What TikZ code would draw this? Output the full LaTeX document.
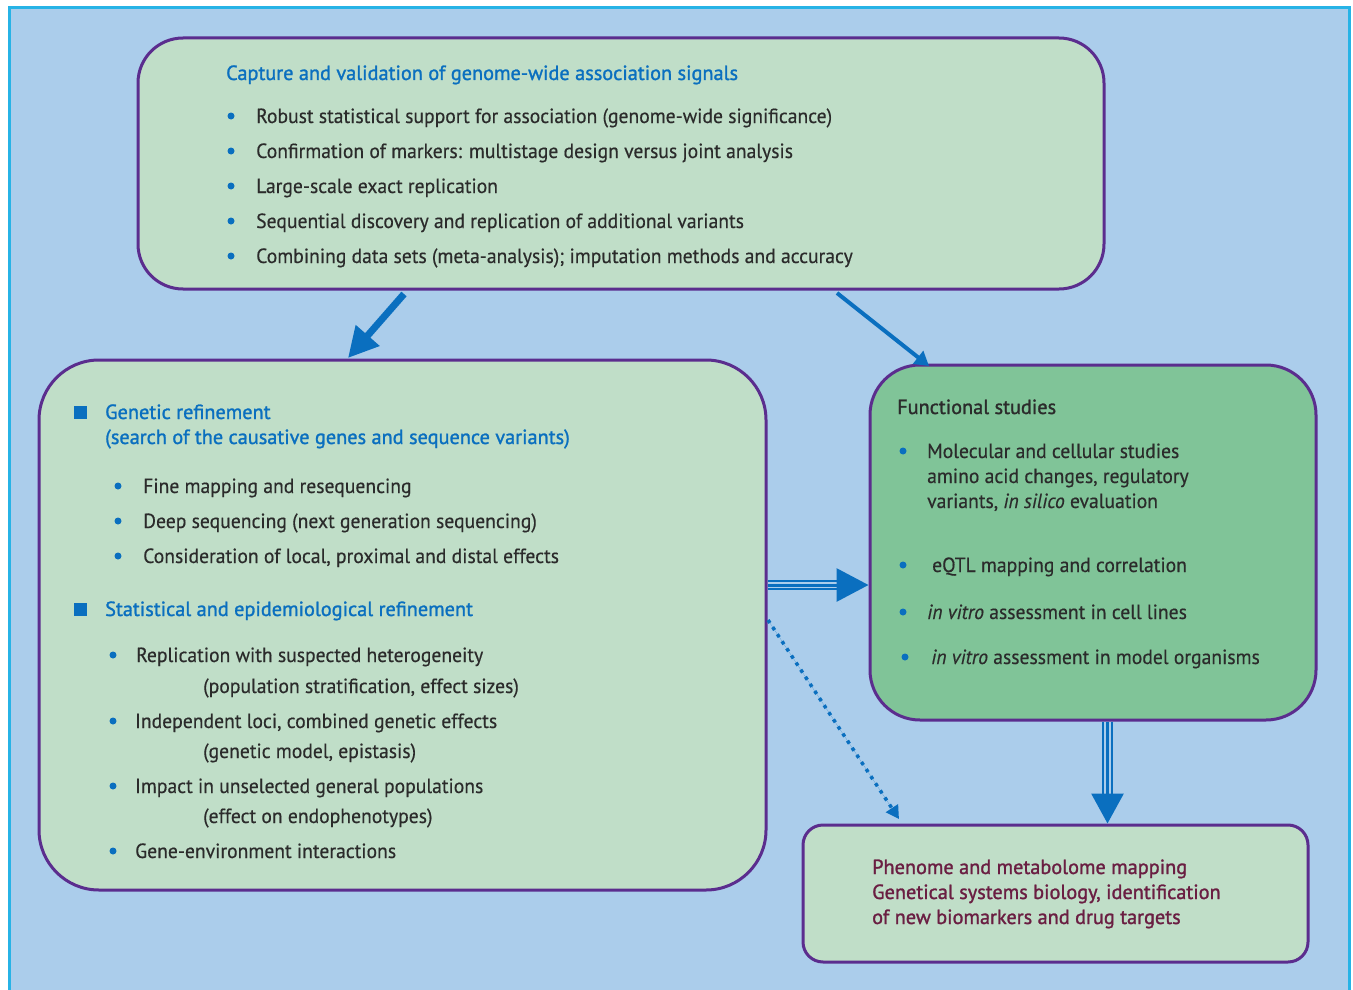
\documentclass[tikz,border=0pt]{standalone}
\usepackage{fontspec}
\setmainfont{PT Sans}[FakeStretch=0.958, FakeBold=0.4]
\newfontfamily\ttlfont{PT Sans}[FakeStretch=0.99, FakeBold=1.3]
\usetikzlibrary{arrows.meta}
\definecolor{bgblue}{HTML}{ABCDEB}
\definecolor{frame}{HTML}{27B3E6}
\definecolor{boxgreen}{HTML}{C0DEC8}
\definecolor{fungreen}{HTML}{80C498}
\definecolor{purp}{HTML}{5B2D8E}
\definecolor{tblue}{HTML}{0A6FBF}
\definecolor{tgray}{HTML}{2B2B2B}
\definecolor{maroon}{HTML}{6A1E42}
\tikzset{
  box/.style={draw=purp, line width=3pt, fill=boxgreen, inner sep=0pt},
  txt/.style={anchor=base west, inner sep=0pt, text=tgray},
  ttl/.style={txt, text=tblue, font=\fontsize{20.5}{25}\ttlfont},
  hdr/.style={txt, font=\fontsize{20.5}{25}\ttlfont},
  mar/.style={txt, text=maroon, font=\fontsize{20.5}{25}\ttlfont},
  bul/.style={circle, fill=tblue, inner sep=0pt, minimum size=7pt},
  sq/.style={rectangle, fill=tblue, inner sep=0pt, minimum size=13pt},
  arr/.style={draw=tblue, fill=tblue},
}
\begin{document}
\begin{tikzpicture}[x=1pt,y=-1pt,font=\fontsize{20.5}{25}\selectfont]
\useasboundingbox (0,0) rectangle (1353,990);
\begin{scope}
\clip (0,0) rectangle (1353,990);
\draw[frame, fill=bgblue, line width=3pt] (9.5,7.5) rectangle (1349.5,1010);
\end{scope}

% boxes
\node[box, rounded corners=45pt, minimum width=966pt, minimum height=251pt] (top) at (621,163.5) {};
\node[box, rounded corners=60pt, minimum width=727pt, minimum height=530pt] (left) at (402.5,625) {};
\node[box, fill=fungreen, rounded corners=50pt, minimum width=446pt, minimum height=355pt] (right) at (1093,542.5) {};
\node[box, rounded corners=20pt, minimum width=505pt, minimum height=137pt] (bot) at (1055.5,893.5) {};

% top box text
\node[ttl] (t0) at (226,80) {Capture and validation of genome-wide association signals};
\node[bul] (tb1) at (231,116) {}; \node[txt] (t1) at (256,123) {Robust statistical support for association (genome-wide significance)};
\node[bul] (tb2) at (231,151) {}; \node[txt] (t2) at (256,158) {Confirmation of markers: multistage design versus joint analysis};
\node[bul] (tb3) at (231,186) {}; \node[txt] (t3) at (256,193) {Large-scale exact replication};
\node[bul] (tb4) at (231,221) {}; \node[txt] (t4) at (256,228) {Sequential discovery and replication of additional variants};
\node[bul] (tb5) at (231,256) {}; \node[txt] (t5) at (256,263) {Combining data sets (meta-analysis); imputation methods and accuracy};

% left box text
\node[sq] (ls1) at (80,412) {};
\node[ttl] (l0a) at (105,419) {Genetic refinement};
\node[ttl] (l0b) at (105,444) {(search of the causative genes and sequence variants)};
\node[bul] (lb1) at (118,486) {}; \node[txt] (l1) at (143,493) {Fine mapping and resequencing};
\node[bul] (lb2) at (118,521) {}; \node[txt] (l2) at (143,528) {Deep sequencing (next generation sequencing)};
\node[bul] (lb3) at (118,556) {}; \node[txt] (l3) at (143,563) {Consideration of local, proximal and distal effects};
\node[sq] (ls2) at (80,609) {};
\node[ttl] (l4) at (105,616) {Statistical and epidemiological refinement};
\node[bul] (lb5) at (113,655) {}; \node[txt] (l5) at (136,662) {Replication with suspected heterogeneity};
\node[txt] (l5b) at (203,693) {(population stratification, effect sizes)};
\node[bul] (lb6) at (113,721) {}; \node[txt] (l6) at (135,728) {Independent loci, combined genetic effects};
\node[txt] (l6b) at (203,758) {(genetic model, epistasis)};
\node[bul] (lb7) at (113,786) {}; \node[txt] (l7) at (135,793) {Impact in unselected general populations};
\node[txt] (l7b) at (203,823) {(effect on endophenotypes)};
\node[bul] (lb8) at (113,851) {}; \node[txt] (l8) at (135,858) {Gene-environment interactions};

% right box text
\node[hdr] (r0) at (897,414) {Functional studies};
\node[bul] (rb1) at (903,451) {};
\node[txt] (r1a) at (927,458) {Molecular and cellular studies};
\node[txt] (r1b) at (927,483) {amino acid changes, regulatory};
\node[txt] (r1c) at (927,508) {variants, \textit{in silico} evaluation};
\node[bul] (rb2) at (903,565) {}; \node[txt] (r2) at (932,572) {eQTL mapping and correlation};
\node[bul] (rb3) at (903,612) {}; \node[txt] (r3) at (927,619) {\textit{in vitro} assessment in cell lines};
\node[bul] (rb4) at (905,657) {}; \node[txt] (r4) at (931,664) {\textit{in vitro} assessment in model organisms};

% bottom box text
\node[mar] (m1) at (872,874) {Phenome and metabolome mapping};
\node[mar] (m2) at (872,899) {Genetical systems biology, identification};
\node[mar] (m3) at (872,924) {of new biomarkers and drug targets};

% connector end points
\coordinate (a1s) at (404,294);
\coordinate (a1e) at (348,358);
\coordinate (a2s) at (837,293);
\coordinate (a2e) at (929,366);
\coordinate (hs) at (left.east |- 0,585);
\coordinate (he) at (right.west |- 0,585);
\coordinate (hb) at (838,585);
\coordinate (vs) at (right.south -| 1107.5,0);
\coordinate (ve) at (bot.north -| 1107.5,0);
\coordinate (vb) at (1107.5,795);
\coordinate (ds) at (768,620);
\coordinate (de) at (899,819);

% arrows
\draw[arr, line width=7pt, -{Triangle[length=30pt,width=30pt]}] (a1s) -- (a1e);
\draw[arr, line width=4pt, -{Triangle[length=14pt,width=16pt]}] (a2s) -- (a2e);
\draw[arr, line width=3pt, -{Triangle[length=32pt,width=33pt]}] (hs) -- (he);
\draw[tblue, line width=1.5pt] ([yshift=4pt]hs) -- ([yshift=4pt]hb);
\draw[tblue, line width=1.5pt] ([yshift=-4pt]hs) -- ([yshift=-4pt]hb);
\draw[arr, line width=3pt, -{Triangle[length=30pt,width=32pt]}] (vs) -- (ve);
\draw[tblue, line width=1.5pt] ([xshift=-4.5pt]vs) -- ([xshift=-4.5pt]vb);
\draw[tblue, line width=1.5pt] ([xshift=4.5pt]vs) -- ([xshift=4.5pt]vb);
\draw[arr, line width=3.5pt, dash pattern=on 3.5pt off 5pt, -{Triangle[length=13pt,width=14pt]}] (ds) -- (de);
\end{tikzpicture}
\end{document}
